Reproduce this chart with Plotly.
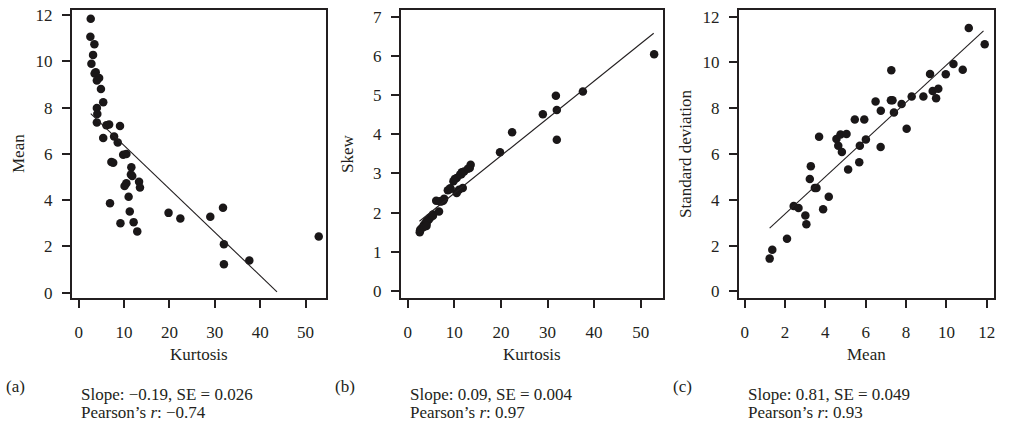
import plotly.graph_objects as go

# ---------------- data ----------------
kurtosis = [2.65, 2.57, 3.46, 3.16, 2.8, 3.75, 3.5, 4.5, 4.0, 4.9, 5.4, 4.0, 4.1, 4.0, 6.1,
            6.7, 9.1, 5.4, 7.8, 8.6, 9.8, 10.5, 7.2, 7.6, 11.6, 11.5, 11.8, 13.3, 10.5, 10.1,
            13.5, 11.0, 6.9, 11.25, 9.2, 12.1, 12.9, 19.8, 22.4, 29.0, 31.8, 32.0, 32.0, 37.6, 52.9]
mean_a = [11.84, 11.06, 10.74, 10.28, 9.9, 9.53, 9.47, 9.28, 9.17, 8.8, 8.23, 7.98, 7.72, 7.36, 7.24,
          7.27, 7.21, 6.69, 6.75, 6.49, 5.96, 6.0, 5.65, 5.62, 5.42, 5.11, 5.04, 4.8, 4.73, 4.61,
          4.55, 4.15, 3.87, 3.51, 3.0, 3.05, 2.65, 3.45, 3.21, 3.28, 3.67, 2.09, 1.23, 1.39, 2.43]
skew = [1.55, 1.50, 1.68, 1.62, 1.58, 1.72, 1.64, 1.82, 1.76, 1.88, 1.95, 1.70, 1.79, 1.66, 2.30,
        2.03, 2.62, 1.92, 2.35, 2.57, 2.80, 2.88, 2.28, 2.30, 3.03, 2.98, 2.63, 3.14, 2.50, 2.86,
        3.22, 2.58, 2.29, 2.97, 2.60, 3.05, 3.12, 3.54, 4.05, 4.51, 4.98, 4.62, 3.86, 5.09, 6.04]
mean_c = [1.24, 1.37, 2.10, 2.43, 2.67, 3.01, 3.06, 3.23, 3.28, 3.48, 3.56, 3.69, 3.89, 4.17, 4.55,
          4.64, 4.75, 4.82, 5.05, 5.13, 5.46, 5.68, 5.71, 5.93, 6.01, 6.49, 6.74, 6.75, 7.27, 7.25,
          7.33, 7.40, 7.78, 8.03, 8.28, 8.86, 9.19, 9.32, 9.49, 9.60, 9.97, 10.35, 10.81, 11.11, 11.90]
std_dev = [1.43, 1.82, 2.30, 3.73, 3.64, 3.31, 2.93, 4.91, 5.47, 4.52, 4.52, 6.75, 3.59, 4.13, 6.66,
           6.36, 6.85, 6.09, 6.87, 5.32, 7.51, 5.64, 6.36, 7.51, 6.63, 8.29, 6.31, 7.89, 9.66, 8.35,
           8.35, 7.81, 8.18, 7.10, 8.51, 8.51, 9.49, 8.75, 8.44, 8.85, 9.48, 9.93, 9.68, 11.5, 10.79]

# fitted lines: slope, intercept, x extent
fit_a = dict(slope=-0.1876, intercept=8.237, x0=2.65, x1=43.7)
fit_b = dict(slope=0.0954, intercept=1.54, x0=2.5, x1=52.8)
fit_c = dict(slope=0.813, intercept=1.75, x0=1.24, x1=11.84)

x_titles = ["Kurtosis", "Kurtosis", "Mean"]
y_titles = ["Mean", "Skew", "Standard deviation"]
panel_tags = ["(a)", "(b)", "(c)"]
slope_texts = ["Slope: \u22120.19, SE = 0.026", "Slope: 0.09, SE = 0.004", "Slope: 0.81, SE = 0.049"]
r_texts = ["Pearson\u2019s <i>r</i>: \u22120.74", "Pearson\u2019s <i>r</i>: 0.97", "Pearson\u2019s <i>r</i>: 0.93"]

x_ticks = [[0, 10, 20, 30, 40, 50], [0, 10, 20, 30, 40, 50], [0, 2, 4, 6, 8, 10, 12]]
y_ticks = [[0, 2, 4, 6, 8, 10, 12], [0, 1, 2, 3, 4, 5, 6, 7], [0, 2, 4, 6, 8, 10, 12]]
x_ranges = [[-1.48, 54.5], [-1.46, 54.8], [-0.28, 12.36]]
y_ranges = [[-0.23, 12.22], [-0.18, 7.17], [-0.29, 12.29]]

# ---------------- layout geometry (pixels) ----------------
W, H = 1009, 426
px_left = [72, 401, 739]
px_right = [326, 663, 994]
px_top, px_bottom = 10, 298
INK = "#231f20"
FONT = '"Liberation Serif", "Times New Roman", Times, serif'

fig = go.Figure()
panels = [(kurtosis, mean_a, fit_a), (kurtosis, skew, fit_b), (mean_c, std_dev, fit_c)]
for i, (xs, ys, fit) in enumerate(panels):
    xa = "x" if i == 0 else f"x{i+1}"
    ya = "y" if i == 0 else f"y{i+1}"
    fig.add_trace(go.Scatter(x=xs, y=ys, mode="markers", xaxis=xa, yaxis=ya,
                             marker=dict(size=8.5, color="#1a1718", line=dict(width=0)),
                             showlegend=False, hoverinfo="skip"))
    lx = [fit["x0"], fit["x1"]]
    ly = [fit["intercept"] + fit["slope"] * v for v in lx]
    fig.add_trace(go.Scatter(x=lx, y=ly, mode="lines", xaxis=xa, yaxis=ya,
                             line=dict(color=INK, width=1.1), showlegend=False, hoverinfo="skip"))

    axis_common = dict(showline=True, mirror=True, linewidth=2, linecolor=INK,
                       ticks="outside", ticklen=8, tickwidth=2, tickcolor=INK,
                       showgrid=False, zeroline=False, automargin=False,
                       tickfont=dict(family=FONT, size=17, color=INK))
    xkey = "xaxis" if i == 0 else f"xaxis{i+1}"
    ykey = "yaxis" if i == 0 else f"yaxis{i+1}"
    fig.update_layout(**{
        xkey: dict(domain=[px_left[i] / W, px_right[i] / W], range=x_ranges[i],
                   tickvals=x_ticks[i], anchor=ya, ticklabelstandoff=10, **axis_common),
        ykey: dict(domain=[1 - px_bottom / H, 1 - px_top / H], range=y_ranges[i],
                   tickvals=y_ticks[i], anchor=xa, ticklabelstandoff=6, **axis_common),
    })

    cx = (px_left[i] + px_right[i]) / 2
    fig.add_annotation(text=x_titles[i], xref="paper", yref="paper", x=cx / W, y=1 - 354 / H,
                       xanchor="center", yanchor="middle", showarrow=False,
                       font=dict(family=FONT, size=17, color=INK))
    fig.add_annotation(text=y_titles[i], xref="paper", yref="paper",
                       x=(px_left[i] - 54) / W, y=1 - 154 / H, textangle=-90,
                       xanchor="center", yanchor="middle", showarrow=False,
                       font=dict(family=FONT, size=17, color=INK))
    fig.add_annotation(text=panel_tags[i], xref="paper", yref="paper",
                       x=(px_left[i] - 68) / W, y=1 - 386 / H,
                       xanchor="left", yanchor="middle", showarrow=False,
                       font=dict(family=FONT, size=17, color=INK))
    fig.add_annotation(text=slope_texts[i], xref="paper", yref="paper",
                       x=(px_left[i] + 7) / W, y=1 - 394 / H,
                       xanchor="left", yanchor="middle", showarrow=False,
                       font=dict(family=FONT, size=17, color=INK))
    fig.add_annotation(text=r_texts[i], xref="paper", yref="paper",
                       x=(px_left[i] + 7) / W, y=1 - 412 / H,
                       xanchor="left", yanchor="middle", showarrow=False,
                       font=dict(family=FONT, size=17, color=INK))

fig.update_layout(width=W, height=H, margin=dict(l=0, r=0, t=0, b=0),
                  paper_bgcolor="white", plot_bgcolor="white",
                  font=dict(family=FONT, size=17, color=INK))
fig.write_html("out.html", config={"displayModeBar": False},
               post_script="document.body.style.margin='0';")
